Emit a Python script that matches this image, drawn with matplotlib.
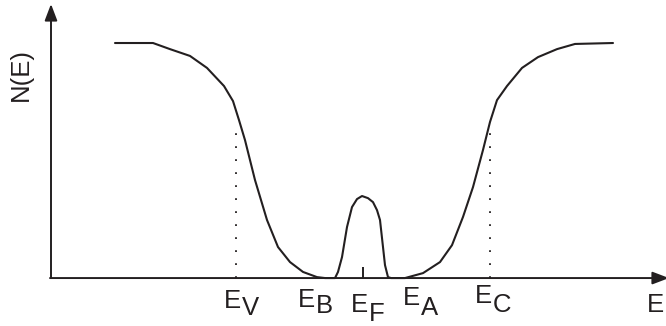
import numpy as np
import matplotlib
matplotlib.use("Agg")
from matplotlib import pyplot as plt
from matplotlib.transforms import ScaledTranslation

plt.rcParams['font.family'] = ['Liberation Sans', 'DejaVu Sans']

# density of states N(E) vs energy (arbitrary units, E_F at 0, plateau = 1)
energy = [-24.8, -21.0, -19.3, -17.3, -15.6, -13.9, -13.0, -12.4, -11.8,
          -10.8, -9.6, -8.5, -7.3, -6.0, -4.6, -3.8,
          -2.8, -2.5, -2.1, -1.6, -1.1, -0.6, -0.1, 0.5, 1.0, 1.4, 1.7, 2.0,
          2.2, 2.5, 2.8,
          4.2, 6.0, 7.7, 8.9, 10.0, 11.0, 12.0, 12.7, 13.4, 14.4, 15.9, 17.5,
          19.4, 21.2, 25.0]
density = [1.0, 1.0, 0.974, 0.945, 0.894, 0.817, 0.753, 0.672, 0.587,
           0.417, 0.247, 0.132, 0.068, 0.026, 0.004, 0.0,
           0.0, 0.026, 0.089, 0.217, 0.302, 0.336, 0.349, 0.340, 0.323, 0.289,
           0.247, 0.132, 0.055, 0.004, 0.0,
           0.0, 0.021, 0.068, 0.140, 0.260, 0.387, 0.545, 0.664, 0.757, 0.817,
           0.894, 0.940, 0.974, 0.996, 1.0]

# band edges marked with dotted lines, Fermi level with a short tick
edge_energy = [-12.7, 12.7]
edge_height = 0.617
fermi_energy = 0.0
fermi_tick = 0.047

# level labels: E + subscript
label_sub = ['V', 'B', 'F', 'A', 'C']
label_x = [-12.1, -4.7, 0.6, 5.8, 13.0]
label_drop = [30, 29, 34, 27, 25]      # px below axis, main letter baseline
sub_drop = [37, 35, 43, 37, 34]        # px below axis, subscript baseline

ink = '#231f20'
PT = 72 / 100.0   # px -> points

fig = plt.figure(figsize=(6.66, 3.26), dpi=100)
ax = fig.add_axes([0, 0, 1, 1])
ax.set_xlim(-36.3, 30.3)
ax.set_ylim(-0.204, 1.183)
ax.axis('off')

# axes with arrow heads
arrow = dict(arrowstyle='-|>,head_length=1.0,head_width=0.38', mutation_scale=10,
             lw=1.4, color=ink, shrinkA=0, shrinkB=0)
ax.annotate('', xy=(-31.2, 1.166), xytext=(-31.2, 0), arrowprops=arrow,
            annotation_clip=False)
ax.annotate('', xy=(30.6, 0), xytext=(-31.3, 0), arrowprops=arrow,
            annotation_clip=False)

ax.plot(energy, density, color=ink, lw=1.5, solid_joinstyle='round',
        solid_capstyle='round')

ax.vlines(edge_energy, 0, edge_height, colors=ink, lw=1.3,
          linestyles=[(0, (1, 6.2))])
ax.vlines(fermi_energy, 0, fermi_tick, colors=ink, lw=1.4)

for x, s, d1, d2 in zip(label_x, label_sub, label_drop, sub_drop):
    ax.annotate('E', xy=(x, 0), xytext=(-1, -d1 * PT), textcoords='offset points',
                ha='right', va='baseline', fontsize=18.5, color=ink)
    ax.annotate(s, xy=(x, 0), xytext=(0, -d2 * PT), textcoords='offset points',
                ha='left', va='baseline', fontsize=18.5, color=ink)

# energy axis title at the right end
ax.text(28.4, 0, 'E', ha='left', va='baseline', fontsize=18.5, color=ink,
        transform=ax.transData + ScaledTranslation(0, -34 / 100.0,
                                                   fig.dpi_scale_trans))

ax.text(-34.2, 0.868, 'N(E)', rotation=90, ha='center', va='center',
        fontsize=18.5, color=ink)

fig.savefig('out.png', dpi=100)
